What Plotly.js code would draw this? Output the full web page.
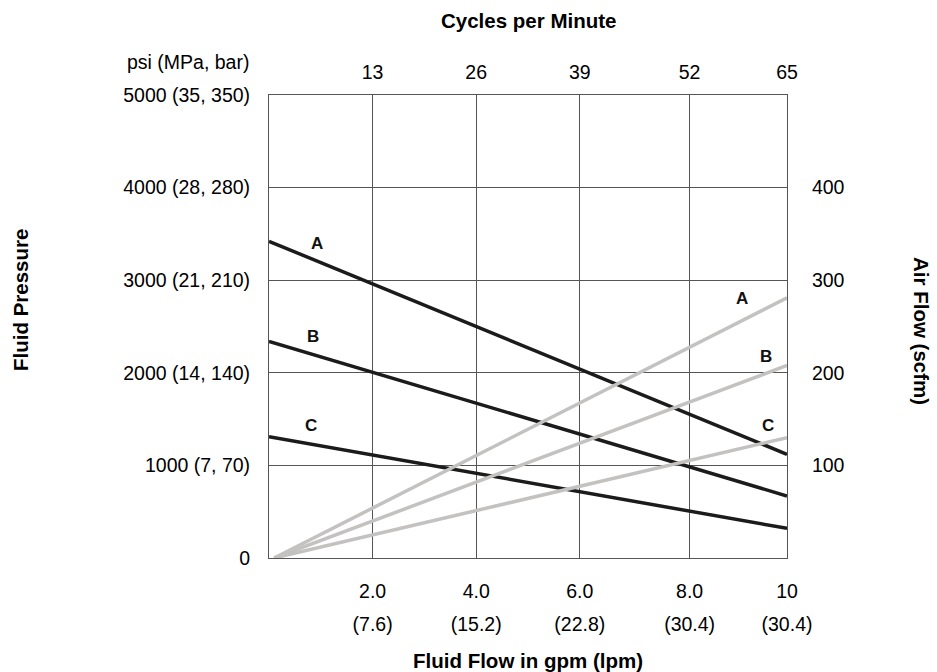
<!DOCTYPE html>
<html><head><meta charset="utf-8">
<script src="https://cdn.plot.ly/plotly-3.0.1.min.js"></script>
<style>html,body{margin:0;padding:0;background:#fff}#chart{width:937px;height:672px}</style>
</head><body><div id="chart"></div>
<script>
// ---- data ----
const flowGpm = [0, 10];
const pressureA = [3420, 1120];
const pressureB = [2340, 670];
const pressureC = [1310, 320];
const airFlowGpm = [0.1, 10];
const airFlowA = [0, 281];
const airFlowB = [0, 208];
const airFlowC = [0, 130];
const curveNames = ['A', 'B', 'C'];
const gpmTicks = ['2.0', '4.0', '6.0', '8.0', '10'];
const lpmTicks = ['(7.6)', '(15.2)', '(22.8)', '(30.4)', '(30.4)'];
const gridGpm = [2, 4, 6, 8.12, 10];
const cyclesTicks = ['13', '26', '39', '52', '65'];
const psiTicks = [0, 1000, 2000, 3000, 4000, 5000];
const metricTicks = ['', '(7, 70)', '(14, 140)', '(21, 210)', '(28, 280)', '(35, 350)'];
const scfmTicks = [100, 200, 300, 400];

const FONT = 'Arial, "Liberation Sans", Helvetica, sans-serif';
const DARK = '#1b1b1b', GRAY = '#c3c2c0', GRID = '#555555';
const TICK = 19.5, TITLE = 20.5, LBL = 17;

const pressures = [pressureA, pressureB, pressureC];
const airs = [airFlowA, airFlowB, airFlowC];
const traces = [];
pressures.forEach((p, i) => traces.push({
  x: flowGpm, y: p, type: 'scatter', mode: 'lines', name: 'P ' + curveNames[i],
  line: {color: DARK, width: 3.5}, xaxis: 'x', yaxis: 'y', hoverinfo: 'skip'
}));
airs.forEach((a, i) => traces.push({
  x: airFlowGpm, y: a, type: 'scatter', mode: 'lines', name: 'Air ' + curveNames[i],
  line: {color: GRAY, width: 3.5}, xaxis: 'x2', yaxis: 'y2', hoverinfo: 'skip'
}));

const W = 518, H = 463, L = 269, T = 95;
const px = v => (v - L) / W;
const py = v => (T + H - v) / H;

const titleFont = {family: FONT, size: TITLE, color: '#000', weight: 'bold'};
const ann = [
  {text: '<b>Cycles per Minute</b>', xref: 'paper', yref: 'paper', x: px(528), y: py(20), showarrow: false, font: titleFont, xanchor: 'center', yanchor: 'middle'},
  {text: '<b>Fluid Flow in gpm (lpm)</b>', xref: 'paper', yref: 'paper', x: px(528), y: py(660), showarrow: false, font: titleFont, xanchor: 'center', yanchor: 'middle'},
  {text: '<b>Fluid Pressure</b>', xref: 'paper', yref: 'paper', x: px(20), y: py(300), showarrow: false, font: titleFont, textangle: -90, xanchor: 'center', yanchor: 'middle'},
  {text: '<b>Air Flow (scfm)</b>', xref: 'paper', yref: 'paper', x: px(922), y: py(331), showarrow: false, font: titleFont, textangle: 90, xanchor: 'center', yanchor: 'middle'},
  {text: 'psi (MPa, bar)', xref: 'paper', yref: 'paper', x: px(251), y: py(62), showarrow: false, font: {family: FONT, size: TICK, color: '#000'}, xanchor: 'right', yanchor: 'middle'}
];
const lblFont = {family: FONT, size: LBL, color: '#111', weight: 'bold'};
const darkLblX = [0.93, 0.85, 0.81], darkLblY = [3400, 2390, 1430];
const grayLblX = [9.13, 9.59, 9.63], grayLblY = [280, 218, 143];
curveNames.forEach((n, i) => {
  ann.push({text: '<b>' + n + '</b>', xref: 'x', yref: 'y', x: darkLblX[i], y: darkLblY[i], showarrow: false, font: lblFont});
  ann.push({text: '<b>' + n + '</b>', xref: 'x2', yref: 'y2', x: grayLblX[i], y: grayLblY[i], showarrow: false, font: lblFont});
});

const tf = {family: FONT, size: TICK, color: '#000'};
const hidden = 'rgba(0,0,0,0)';
const layout = {
  width: 937, height: 672,
  margin: {l: L, r: 937 - L - W, t: T, b: 672 - T - H, pad: 0},
  paper_bgcolor: '#fff', plot_bgcolor: '#fff',
  showlegend: false,
  font: {family: FONT, color: '#000'},
  xaxis: {
    range: [0, 10], tickmode: 'array', tickvals: gridGpm, ticktext: gpmTicks,
    showgrid: true, gridcolor: GRID, gridwidth: 1, zeroline: false,
    showline: true, mirror: true, linecolor: GRID, linewidth: 1,
    ticks: 'outside', ticklen: 16, tickcolor: hidden, tickfont: tf, fixedrange: true
  },
  xaxis3: {
    overlaying: 'x', side: 'bottom', anchor: 'y', range: [0, 10], tickmode: 'array', tickvals: gridGpm,
    ticktext: lpmTicks, showgrid: false, zeroline: false, showline: false,
    ticks: 'outside', ticklen: 49, tickcolor: hidden, tickfont: tf, fixedrange: true
  },
  xaxis2: {
    overlaying: 'x', side: 'top', range: [0, 10], tickmode: 'array', tickvals: gridGpm,
    ticktext: cyclesTicks, showgrid: false, zeroline: false, showline: false,
    ticks: 'outside', ticklen: 7, tickcolor: hidden, tickfont: tf, fixedrange: true
  },
  yaxis: {
    range: [0, 5000], tickmode: 'array', tickvals: psiTicks,
    ticktext: psiTicks.map((p, i) => metricTicks[i] ? p + ' ' + metricTicks[i] : String(p)),
    showgrid: true, gridcolor: GRID, gridwidth: 1, zeroline: false,
    showline: true, mirror: true, linecolor: GRID, linewidth: 1,
    ticks: 'outside', ticklen: 14, tickcolor: hidden, tickfont: tf, fixedrange: true
  },
  yaxis2: {
    overlaying: 'y', side: 'right', range: [0, 500], tickmode: 'array', tickvals: scfmTicks,
    showgrid: false, zeroline: false, showline: false,
    ticks: 'outside', ticklen: 20, tickcolor: hidden, tickfont: tf, fixedrange: true
  },
  annotations: ann
};
// an invisible trace so the lpm label axis is drawn
traces.push({x: flowGpm, y: [null, null], type: 'scatter', mode: 'lines', xaxis: 'x3', yaxis: 'y', hoverinfo: 'skip', showlegend: false});
Plotly.newPlot('chart', traces, layout, {displayModeBar: false, staticPlot: true});
</script></body></html>
